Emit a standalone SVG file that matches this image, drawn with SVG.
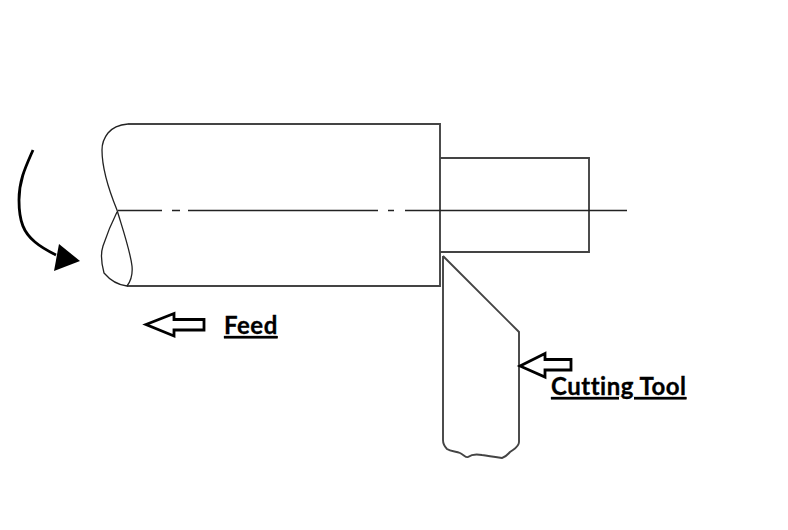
<svg xmlns="http://www.w3.org/2000/svg" width="788" height="530" viewBox="0 0 788 530">
<style>
.ln{fill:none;stroke:#444;stroke-width:1.9}
.thin{fill:none;stroke:#222;stroke-width:1.3}
.blk{fill:none;stroke:#000;stroke-width:2.8}
.lbl{font-family:"Lato","Liberation Sans",sans-serif;font-weight:700;font-size:24px;letter-spacing:.5px;fill:#000;stroke:#000;stroke-width:.3px;text-decoration:underline}
</style>
<rect width="788" height="530" fill="#fff"/>
<g id="workpiece">
<path class="ln" d="M128 124H440V286H127"/>
<path class="thin" d="M128 124C118 125 112 128 108 133C104 138 102 142 102 150C102 165 108 188 117 210C123 230 130 250 132 266C133 276 130 282 127 286C118 285 110 280 104 273C101 262 101 252 103 246C107 234 112 222 117 212"/>
</g>
<g id="shaft">
<path class="ln" d="M440 158H589V252H440"/>
</g>
<g id="centre-line">
<path class="thin" d="M118 210.500H162M172 210.500H180M188 210.500H378M388 210.500H394M405 210.500H627"/>
</g>
<g id="cutting-tool">
<path class="ln" d="M443 256V440C443 445 445 447 447 449C451 452 456 451 460 453C464 455 466 458 468 457C472 454 477 454 482 455C488 456 495 457 502 458C506 457 508 454 510 452C514 449 519 447 519 442V332L443 256"/>
</g>
<g id="connectors">
<path d="M33 150C26 166 19 180 19 200C19 222 24 233 35 242C42 248 48 251 56 255" fill="none" stroke="#000" stroke-width="2.800"/>
<path d="M59 244L80 261L54 271Z" fill="#000"/>
<path class="blk" d="M146 324.500L174 313.500V319.500H204V330H174V336Z"/>
<path class="blk" d="M520 366L545 353.500V359.500H571V370H545V377Z"/>
</g>
<g id="label-feed"><text class="lbl" x="224" y="334">Feed</text></g>
<g id="label-cutting-tool"><text class="lbl" x="551" y="395">Cutting Tool</text></g>
</svg>
